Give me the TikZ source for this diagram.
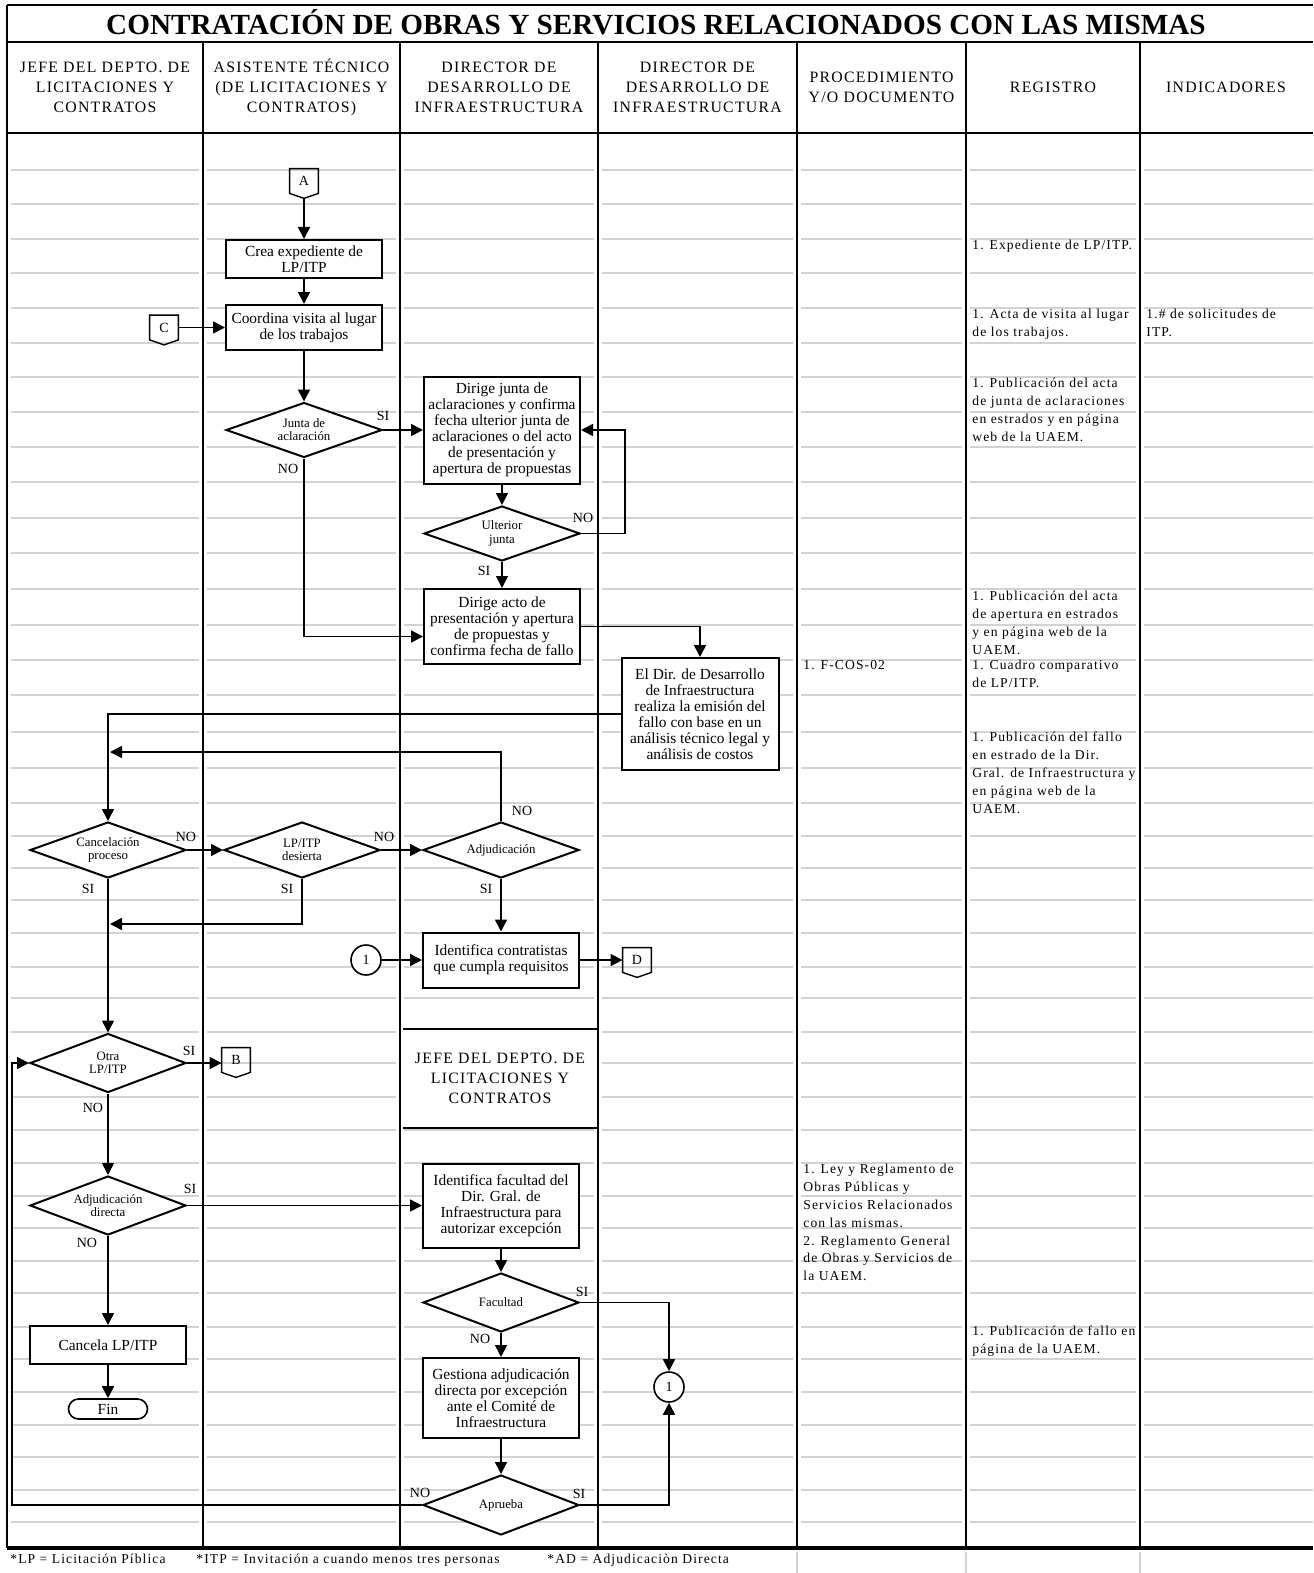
\documentclass[tikz,border=0pt]{standalone}
\usepackage{fontspec}
\setmainfont{Liberation Serif}
\newfontfamily\spacedfont[LetterSpace=8]{Liberation Serif}
\usetikzlibrary{arrows.meta,shapes.geometric,shapes.misc}

\definecolor{gridgray}{RGB}{210,210,210}

\newcommand\procfont{\fontsize{7.7}{8}\selectfont}
\newcommand\decfont{\fontsize{6.4}{6.6}\selectfont}
\newcommand\yesnofont{\fontsize{7}{8}\selectfont}
\newcommand\headfont{\spacedfont\fontsize{7.9}{10}\selectfont}
\newcommand\notefont{\spacedfont\fontsize{6.8}{8.9}\selectfont}
\newcommand\bigtitlefont{\bfseries\fontsize{14.6}{16}\selectfont}

% outline of an off-page connector
\newcommand\offpageoutline[1]{\draw[line width=0.7pt] (#1.north west) -- (#1.north east)
  -- (#1.south east) -- ([yshift=-2.5pt]#1.south) -- (#1.south west) -- cycle;}

\tikzset{
  proc/.style={draw, line width=1pt, fill=white, align=center, inner sep=0pt,
    font=\procfont, minimum width=78pt},
  decision/.style={diamond, aspect=2.8, draw, line width=1pt, fill=white,
    align=center, inner sep=0pt, font=\decfont, minimum width=78pt, minimum height=28pt},
  offpage/.style={minimum width=14pt, minimum height=12pt, inner sep=0pt, font=\yesnofont},
  joint/.style={circle, draw, line width=0.8pt, fill=white, inner sep=0pt,
    minimum size=15pt, font=\yesnofont},
  terminal/.style={rounded rectangle, draw, line width=0.8pt, fill=white, inner sep=0pt,
    minimum width=39.5pt, minimum height=10pt, font=\procfont},
  yesno/.style={font=\yesnofont, inner sep=0pt},
  headtxt/.style={font=\headfont, align=center, inner sep=0pt},
  notetxt/.style={font=\notefont, align=left, inner sep=0pt, anchor=north west},
  flow/.style={line width=0.8pt, -{Triangle[length=6pt,width=6pt]}},
  gridline/.style={gridgray, line width=1.2pt},
  rule/.style={line width=1.2pt},
}

\begin{document}
\begin{tikzpicture}[x=0.5pt, y=-0.5pt]
  \useasboundingbox (0,0) rectangle (1313,1573);
  \def\Xl{7};     % left border
  \def\Xr{1313};  % right edge
  \def\Ytop{5};
  \def\Ytit{42};  % under the title
  \def\Yhead{133}; % under the lane names
  \def\Ybot{1548}; % footer rule

  % light rows
  \foreach \y in {170,204,239,273,308,343,377,412,447,482,518,553,589,625,660,695,
      732,768,803,836,868,900,933,967,998,1032,1063,1097,1130,1163,1196,1228,1261,
      1293,1327,1359,1392,1425,1457,1490,1522}
    \foreach \xa/\xb in {11/199,207/396,404/594,602/793,801/962,970/1136,1144/1313}
      \draw[gridline] (\xa,\y) -- (\xb,\y);
  \fill[white] (402,1031) rectangle (596,1126);

  % frame and lanes
  \draw[rule] (\Xl,\Ytop) -- (\Xr,\Ytop);
  \draw[rule] (\Xl,\Ytop) -- (\Xl,\Ybot);
  \draw[rule] (\Xl,\Ytit) -- (\Xr,\Ytit);
  \draw[rule] (\Xl,\Yhead) -- (\Xr,\Yhead);
  \foreach \x in {203,400,598,797,966,1140}
    \draw[rule] (\x,\Ytit) -- (\x,\Ybot);
  \draw[line width=2pt] (\Xl,\Ybot) -- (\Xr,\Ybot);
  \foreach \x in {797,966,1140}
    \draw[gridgray, line width=1pt] (\x,1552) -- (\x,1573);

  % title and lane names
  \node[font=\bigtitlefont, inner sep=0pt, anchor=base] (titulo) at (656,34.5)
    {CONTRATACIÓN DE OBRAS Y SERVICIOS RELACIONADOS CON LAS MISMAS};
  \node[headtxt] (jefe) at (105,87.5) {JEFE DEL DEPTO. DE\\LICITACIONES Y\\CONTRATOS};
  \node[headtxt] (asist) at (301.5,87.5) {ASISTENTE TÉCNICO\\(DE LICITACIONES Y\\CONTRATOS)};
  \node[headtxt] (dira) at (499,87.5) {DIRECTOR DE\\DESARROLLO DE\\INFRAESTRUCTURA};
  \node[headtxt] (dirb) at (697.5,87.5) {DIRECTOR DE\\DESARROLLO DE\\INFRAESTRUCTURA};
  \node[headtxt] (procd) at (881.5,87.5) {PROCEDIMIENTO\\Y/O DOCUMENTO};
  \node[headtxt] (regis) at (1053,87.5) {REGISTRO};
  \node[headtxt] (indic) at (1226,87.5) {INDICADORES};

  % second lane name
  \draw[rule] (403,1029) -- (598,1029);
  \draw[rule] (403,1128) -- (598,1128);
  \node[headtxt] (jefeb) at (500,1078) {JEFE DEL DEPTO. DE\\LICITACIONES Y\\CONTRATOS};

  % upper part
  \node[offpage] (A) at (304,181) {A};
  \offpageoutline{A}
  \node[proc, minimum height=19pt] (crea) at (304,259) {Crea expediente de\\LP/ITP};
  \node[proc, minimum height=22.5pt] (visita) at (304,327.5) {Coordina visita al lugar\\de los trabajos};
  \node[offpage] (C) at (164,327.5) {C};
  \offpageoutline{C}
  \node[decision, minimum height=27.5pt] (junta) at (304,430) {Junta de\\aclaración};
  \node[proc, minimum height=53.5pt] (dirjunta) at (502,430)
    {Dirige junta de\\aclaraciones y confirma\\fecha ulterior junta de\\aclaraciones o del acto\\de presentación y\\apertura de propuestas};
  \node[decision, minimum height=27.5pt] (ulterior) at (502,533.5) {Ulterior\\junta};
  \node[proc, minimum height=37.5pt] (acto) at (502,626.5)
    {Dirige acto de\\presentación y apertura\\de propuestas y\\confirma fecha de fallo};
  \node[proc, minimum width=78.5pt, minimum height=56pt] (fallo) at (700,714)
    {El Dir. de Desarrollo\\de Infraestructura\\realiza la emisión del\\fallo con base en un\\análisis técnico legal y\\análisis de costos};

  % decisions on the result
  \node[decision] (cancel) at (108,850) {Cancelación\\proceso};
  \node[decision] (desierta) at (302,850) {LP/ITP\\desierta};
  \node[decision] (adjud) at (501,850) {Adjudicación};
  \node[proc, minimum height=27.5pt] (contrat) at (501,960) {Identifica contratistas\\que cumpla requisitos};
  \node[joint] (uno) at (366,960) {1};
  \node[offpage] (D) at (637,960) {D};
  \offpageoutline{D}

  % lower part
  \node[decision, minimum height=29.5pt] (otra) at (108,1063) {Otra\\LP/ITP};
  \node[offpage] (B) at (236,1060) {B};
  \offpageoutline{B}
  \node[decision, minimum height=29.5pt] (directa) at (108,1205.5) {Adjudicación\\directa};
  \node[proc, minimum height=42pt] (facultad) at (501,1205.5)
    {Identifica facultad del\\Dir. Gral. de\\Infraestructura para\\autorizar excepción};
  \node[decision, minimum height=29.5pt] (tienefac) at (501,1302.5) {Facultad};
  \node[joint] (unob) at (669,1387) {1};
  \node[proc, minimum height=40pt] (gestiona) at (501,1398)
    {Gestiona adjudicación\\directa por excepción\\ante el Comité de\\Infraestructura};
  \node[decision, minimum height=30pt] (aprueba) at (501,1505) {Aprueba};
  \node[proc, minimum height=19pt] (cancela) at (108,1345) {Cancela LP/ITP};
  \node[terminal] (fin) at (108,1409) {Fin};

  % connectors
  \draw[flow] ([yshift=-2.5pt]A.south) -- (crea.north);
  \draw[flow] (crea) -- (visita);
  \draw[flow] (C) -- (visita);
  \draw[flow] (visita) -- (junta);
  \draw[flow] (junta) -- (dirjunta);
  \draw[flow] (dirjunta) -- (ulterior);
  \draw[flow] (ulterior.east) -- ++(44,0) |- (dirjunta.east);
  \draw[flow] (ulterior) -- (acto);
  \draw[flow] (junta.south) |- ([yshift=-5pt]acto.west);
  \draw[flow] (acto.east) -| (fallo.north);
  \draw[flow] (fallo.west) -| (cancel.north);
  \coordinate (retorno) at (110,752);
  \coordinate (retornob) at (110,924);
  \draw[flow] (adjud.north) |- (retorno);
  \draw[flow] (desierta.south) |- (retornob);
  \draw[flow] (cancel) -- (desierta);
  \draw[flow] (desierta) -- (adjud);
  \draw[flow] (adjud) -- (contrat);
  \draw[flow] (uno) -- (contrat);
  \draw[flow] (contrat) -- (D);
  \draw[flow] (cancel) -- (otra);
  \draw[flow] (otra.east) -- (otra.east -| B.west);
  \draw[flow] (otra) -- (directa);
  \draw[flow] (directa) -- (facultad);
  \draw[flow] (directa) -- (cancela);
  \draw[flow] (cancela) -- (fin);
  \draw[flow] (facultad) -- (tienefac);
  \draw[flow] (tienefac.east) -| (unob.north);
  \draw[flow] (tienefac) -- (gestiona);
  \draw[flow] (gestiona) -- (aprueba);
  \draw[flow] (aprueba.east) -| (unob.south);
  \coordinate (vuelta) at (12,1063);
  \draw[flow] (aprueba.west) -| (vuelta) -- (otra.west);

  % SI / NO
  \node[yesno] (siJunta) at (383,416) {SI};
  \node[yesno] (noJunta) at (288,469) {NO};
  \node[yesno] (noUlt) at (583,518) {NO};
  \node[yesno] (siUlt) at (484,571) {SI};
  \node[yesno] (noCan) at (186,837) {NO};
  \node[yesno] (siCan) at (88,889) {SI};
  \node[yesno] (noDes) at (384,837) {NO};
  \node[yesno] (siDes) at (287,889) {SI};
  \node[yesno] (noAdj) at (522,811) {NO};
  \node[yesno] (siAdj) at (486,889) {SI};
  \node[yesno] (siOtra) at (189,1051) {SI};
  \node[yesno] (noOtra) at (93,1108) {NO};
  \node[yesno] (siDir) at (190,1189) {SI};
  \node[yesno] (noDir) at (87,1243) {NO};
  \node[yesno] (siFac) at (582,1292) {SI};
  \node[yesno] (noFac) at (480,1339) {NO};
  \node[yesno] (noApr) at (420,1493) {NO};
  \node[yesno] (siApr) at (579,1494) {SI};

  % documents, records and indicators
  \node[notetxt] (reg1) at (972,240) {1. Expediente de LP/ITP.};
  \node[notetxt] (reg2) at (972,309) {1. Acta de visita al lugar\\de los trabajos.};
  \node[notetxt] (ind1) at (1146,309) {1.\# de solicitudes de\\ITP.};
  \node[notetxt] (reg3) at (972,378) {1. Publicación del acta\\de junta de aclaraciones\\en estrados y en página\\web de la UAEM.};
  \node[notetxt] (reg4) at (972,591) {1. Publicación del acta\\de apertura en estrados\\y en página web de la\\UAEM.};
  \node[notetxt] (reg5) at (972,660) {1. Cuadro comparativo\\de LP/ITP.};
  \node[notetxt] (doc1) at (803,660) {1. F-COS-02};
  \node[notetxt] (reg6) at (972,732) {1. Publicación del fallo\\en estrado de la Dir.\\Gral. de Infraestructura y\\en página web de la\\UAEM.};
  \node[notetxt] (doc2) at (803,1164) {1. Ley y Reglamento de\\Obras Públicas y\\Servicios Relacionados\\con las mismas.\\2. Reglamento General\\de Obras y Servicios de\\la UAEM.};
  \node[notetxt] (reg7) at (972,1326) {1. Publicación de fallo en\\página de la UAEM.};

  % footer
  \node[font=\notefont, inner sep=0pt, anchor=base west] (abrLP) at (10,1563) {*LP = Licitación Píblica};
  \node[font=\notefont, inner sep=0pt, anchor=base west] (abrITP) at (196,1563) {*ITP = Invitación a cuando menos tres personas};
  \node[font=\notefont, inner sep=0pt, anchor=base west] (abrAD) at (547,1563) {*AD = Adjudicaciòn Directa};
\end{tikzpicture}
\end{document}
